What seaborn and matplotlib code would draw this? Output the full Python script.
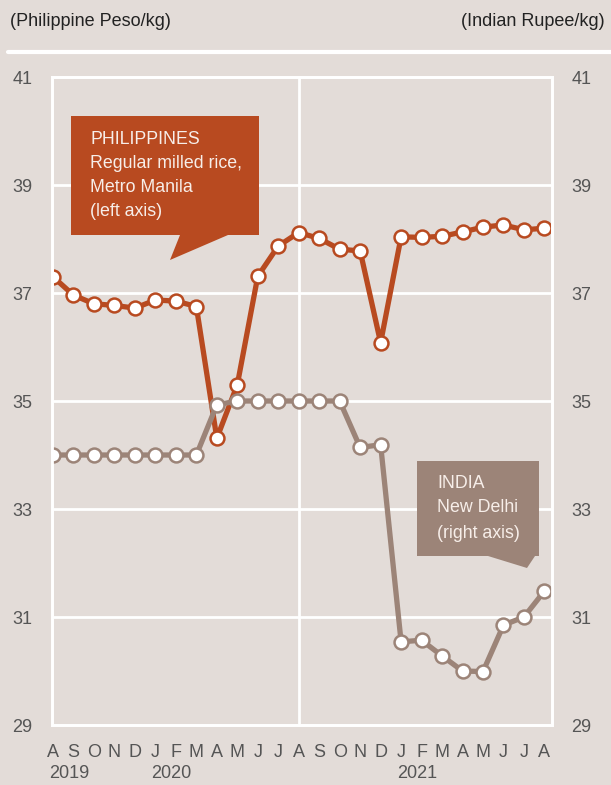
import numpy as np
import pandas as pd
import seaborn as sns
import matplotlib.pyplot as plt
from matplotlib.patches import Polygon

# monthly data, Aug 2019 - Aug 2021
months = ['A', 'S', 'O', 'N', 'D', 'J', 'F', 'M', 'A', 'M', 'J', 'J', 'A',
          'S', 'O', 'N', 'D', 'J', 'F', 'M', 'A', 'M', 'J', 'J', 'A']
years = ['2019', '2020', '2021']
year_pos = [0, 5, 17]

philippines = [37.3, 36.96, 36.8, 36.77, 36.72, 36.87, 36.85, 36.75, 34.31, 35.3,
               37.31, 37.87, 38.12, 38.01, 37.81, 37.78, 36.08, 38.04, 38.03, 38.05,
               38.13, 38.22, 38.26, 38.17, 38.2]
india = [34.0, 34.0, 34.0, 34.0, 34.0, 34.0, 34.0, 34.0, 34.93, 35.0,
         35.0, 35.0, 35.0, 35.0, 35.0, 34.14, 34.19, 30.54, 30.57, 30.28,
         30.0, 29.99, 30.85, 31.0, 31.48]

df = pd.DataFrame({'t': np.arange(len(months)), 'phl': philippines, 'ind': india})

BG = '#e3dcd8'
PHL = '#b84a20'
IND = '#9c8478'
TXT = '#555555'

sns.set_theme(style='white')
plt.rcParams['font.family'] = ['Liberation Sans Narrow', 'Liberation Sans', 'DejaVu Sans']

W, H = 611, 785
fig = plt.figure(figsize=(W / 100, H / 100), dpi=100, facecolor=BG)
ax = fig.add_axes([52 / W, 1 - 725 / H, 500 / W, 648 / H])
ax.set_facecolor(BG)
ax2 = ax.twinx()

for a in (ax, ax2):
    a.set_ylim(29, 41)
    a.set_yticks(range(29, 42, 2))
    a.set_xlim(-0.05, 24.37)
    for s in a.spines.values():
        s.set_color('white')
        s.set_linewidth(2)

ax.grid(axis='y', color='white', linewidth=2)
ax.axvline(12, color='white', linewidth=2, zorder=1)

# Philippines on the left axis, India on the right axis (drawn on top)
sns.lineplot(data=df, x='t', y='phl', ax=ax, color=PHL, linewidth=3.8,
             marker='o', markersize=10, markerfacecolor='white',
             markeredgecolor=PHL, markeredgewidth=1.8)
sns.lineplot(data=df, x='t', y='ind', ax=ax2, color=IND, linewidth=3.8,
             marker='o', markersize=10, markerfacecolor='white',
             markeredgecolor=IND, markeredgewidth=1.8)

ax.set_xlabel('')
ax.set_ylabel('')
ax2.set_ylabel('')
ax.set_xticks(df['t'])
ax.set_xticklabels(months)
ax.tick_params(axis='x', direction='in', length=5, width=1.5, color='white',
               labelsize=13, labelcolor=TXT, pad=14)
ax.tick_params(axis='y', length=0, labelsize=13, labelcolor=TXT, pad=14)
ax2.tick_params(axis='y', length=0, labelsize=13, labelcolor=TXT, pad=14)
ax2.tick_params(axis='x', length=0)

for yr, p in zip(years, year_pos):
    ax.text(p - 0.2, -0.075, yr, transform=ax.get_xaxis_transform(), ha='left',
            va='center', fontsize=13, color=TXT)

# header
fig.text(10 / W, 1 - 22 / H, '(Philippine Peso/kg)', fontsize=13, color='#222222',
         ha='left', va='center')
fig.text(605 / W, 1 - 22 / H, '(Indian Rupee/kg)', fontsize=13, color='#222222',
         ha='right', va='center')
fig.add_artist(plt.Line2D([8 / W, 1], [1 - 52 / H, 1 - 52 / H], color='white',
                          linewidth=3, transform=fig.transFigure))


def px(points):
    return [(x / W, 1 - y / H) for x, y in points]


callouts = [
    (PHL, [(71, 116), (259, 116), (259, 235), (228, 235), (170, 260), (180, 235), (71, 235)],
     90, [139, 163, 188, 212],
     ['PHILIPPINES', 'Regular milled rice,', 'Metro Manila', '(left axis)']),
    (IND, [(417, 461), (539, 461), (539, 556), (535, 556), (527, 568), (488, 556), (417, 556)],
     437, [483, 508, 533],
     ['INDIA', 'New Delhi', '(right axis)']),
]
for color, pts, tx, tys, lines in callouts:
    fig.add_artist(Polygon(px(pts), closed=True, facecolor=color, edgecolor='none',
                           transform=fig.transFigure, zorder=5))
    for ty, line in zip(tys, lines):
        fig.text(tx / W, 1 - ty / H, line, fontsize=12.8, color='#f7eee9',
                 ha='left', va='center', zorder=6)

fig.savefig('out.png', dpi=100, facecolor=BG)
